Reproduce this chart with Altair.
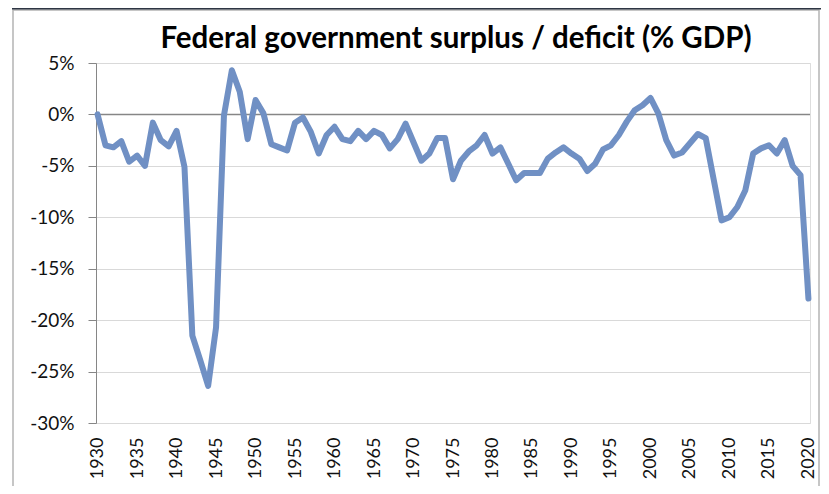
import altair as alt
import pandas as pd

title_text = "Federal government surplus / deficit (% GDP)"

years = list(range(1930, 2021))
balance_pct = [
    0.0, -3.0, -3.2, -2.6, -4.6, -4.0, -5.0, -0.8, -2.5, -3.1,      # 1930-1939
    -1.6, -5.1, -21.5, -23.9, -26.4, -20.7, -0.1, 4.3, 2.2, -2.4,   # 1940-1949
    1.4, 0.1, -2.9, -3.2, -3.5, -0.8, -0.3, -1.7, -3.8, -2.0,       # 1950-1959
    -1.2, -2.4, -2.6, -1.6, -2.4, -1.6, -2.0, -3.3, -2.4, -0.9,     # 1960-1969
    -2.7, -4.5, -3.8, -2.3, -2.3, -6.3, -4.5, -3.6, -3.0, -2.0,     # 1970-1979
    -3.8, -3.2, -4.8, -6.4, -5.7, -5.7, -5.7, -4.3, -3.7, -3.2,     # 1980-1989
    -3.8, -4.3, -5.5, -4.8, -3.4, -3.0, -2.0, -0.7, 0.4, 0.9,       # 1990-1999
    1.6, 0.1, -2.5, -4.0, -3.7, -2.8, -1.9, -2.3, -6.3, -10.3,      # 2000-2009
    -10.0, -9.0, -7.4, -3.8, -3.3, -3.0, -3.8, -2.5, -5.0, -5.9,    # 2010-2019
    -17.9,                                                          # 2020
]
x_ticks = list(range(1930, 2021, 5))
y_ticks = [5, 0, -5, -10, -15, -20, -25, -30]

df = pd.DataFrame({"year": years, "value": balance_pct})
one = pd.DataFrame({"k": [0]})
title_df = pd.DataFrame({"t": [title_text]})

FONT = "Lato"
LINE = "#7090c4"
AXIS_GRAY = "#868686"

x_enc = alt.X(
    "year:Q",
    scale=alt.Scale(domain=[1929.8, 2020.2], nice=False, zero=False),
    axis=alt.Axis(
        values=x_ticks, format="d", labelAngle=270, grid=False, domain=False,
        ticks=False, labelPadding=14, labelFontSize=18, labelFont=FONT,
        labelColor="#111111", title=None, labelFlush=False, labelOverlap=False,
    ),
)
y_enc = alt.Y(
    "value:Q",
    scale=alt.Scale(domain=[-30, 5], nice=False),
    axis=alt.Axis(
        values=y_ticks, labelExpr="datum.value + '%'", grid=True,
        gridColor="#d9d9d9", gridWidth=1.2, domainColor=AXIS_GRAY,
        tickColor=AXIS_GRAY, tickSize=8, labelPadding=14, labelFontSize=19,
        labelFont=FONT, labelColor="#111111", title=None,
    ),
)

line = alt.Chart(df).mark_line(
    color=LINE, strokeWidth=6, strokeJoin="round", strokeCap="round"
).encode(x=x_enc, y=y_enc)

zero_rule = alt.Chart(one).mark_rule(color=AXIS_GRAY, strokeWidth=1.6).encode(
    y=alt.datum(0)
)

frame = alt.Chart(one).mark_rect(
    filled=False, stroke="#b4b4b4", strokeWidth=1.5
).encode(
    x=alt.value(-83), x2=alt.value(723), y=alt.value(-53), y2=alt.value(460)
)

top_bar = alt.Chart(one).mark_rule(color="#2e3644", strokeWidth=2).encode(
    x=alt.value(-84), x2=alt.value(740), y=alt.value(-54.5)
)

title_mark = alt.Chart(title_df).mark_text(
    font=FONT, fontSize=29.5, fontWeight="bold", color="#000000",
    align="center", baseline="alphabetic",
).encode(text="t:N", x=alt.value(360), y=alt.value(-15))

chart = alt.layer(frame, top_bar, zero_rule, line, title_mark).properties(
    width=714,
    height=360,
    autosize=alt.AutoSizeParams(type="none"),
    padding={"left": 88, "top": 55, "right": 11, "bottom": 63},
).configure_view(stroke=None).configure(background="white")

chart.save("out.html", embed_options={"renderer": "svg", "actions": False})
